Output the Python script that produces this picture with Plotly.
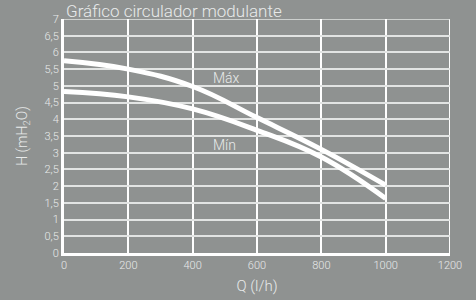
import plotly.graph_objects as go

q_values = [0, 200, 400, 600, 800, 1000]
h_max = [5.75, 5.50, 4.98, 4.05, 3.10, 2.03]
h_min = [4.83, 4.67, 4.31, 3.67, 2.87, 1.63]
x_ticks = [0, 200, 400, 600, 800, 1000, 1200]
y_ticks = [0, 0.5, 1, 1.5, 2, 2.5, 3, 3.5, 4, 4.5, 5, 5.5, 6, 6.5, 7]
y_tick_text = [str(v).replace(".", ",") if v % 1 else str(int(v)) for v in y_ticks]

bg = "#8f9291"
txt = "#e8eaea"
font_family = "Roboto"

fig = go.Figure()
for h in (h_max, h_min):
    fig.add_trace(go.Scatter(
        x=q_values, y=h, mode="lines",
        line=dict(color="white", width=5, shape="spline", smoothing=1.2),
        hoverinfo="skip", showlegend=False,
    ))

fig.add_annotation(x=505, y=5.23, text="Máx", showarrow=False,
                   font=dict(family=font_family, size=14, color=txt, weight=300))
fig.add_annotation(x=500, y=3.22, text="Mín", showarrow=False,
                   font=dict(family=font_family, size=14, color=txt, weight=300))
fig.add_annotation(xref="paper", yref="paper", x=0.0, y=1.0 + 20 / 234, xanchor="left", yanchor="top",
                   text="Gráfico circulador modulante", showarrow=False,
                   font=dict(family=font_family, size=17, color=txt, weight=300))

fig.update_layout(
    width=476, height=300,
    margin=dict(l=64, r=26, t=19, b=47, autoexpand=False),
    paper_bgcolor=bg, plot_bgcolor=bg,
    font=dict(family=font_family, color=txt, size=11, weight=300),
    xaxis=dict(
        range=[0, 1200], tickvals=x_ticks, ticktext=[str(v) for v in x_ticks],
        showgrid=True, gridcolor="white", gridwidth=2,
        showline=True, linecolor="white", linewidth=3, mirror=False,
        zeroline=False, ticks="", tickfont=dict(size=11, color=txt),
        automargin=False,
        title=dict(text="Q (l/h)", font=dict(size=15, color=txt), standoff=10),
    ),
    yaxis=dict(
        range=[0, 7], tickvals=y_ticks, ticktext=y_tick_text,
        showgrid=True, gridcolor="#e2e4e3", gridwidth=1.5,
        showline=True, linecolor="white", linewidth=3,
        zeroline=False, ticks="", tickfont=dict(size=11, color=txt),
        automargin=False,
        title=dict(text="H (mH<sub>2</sub>O)", font=dict(size=14, color=txt), standoff=14),
    ),
)
fig.add_shape(type="line", xref="x", yref="y", x0=1200, x1=1200, y0=0, y1=7,
              line=dict(color="white", width=2), layer="below")
fig.add_shape(type="line", xref="x", yref="y", x0=0, x1=1200, y0=7, y1=7,
              line=dict(color="#e2e4e3", width=1.5), layer="below")

fig.write_html(
    "out.html",
    config={"displayModeBar": False},
    post_script="document.body.style.margin='0';document.body.style.background='%s';" % bg,
)
